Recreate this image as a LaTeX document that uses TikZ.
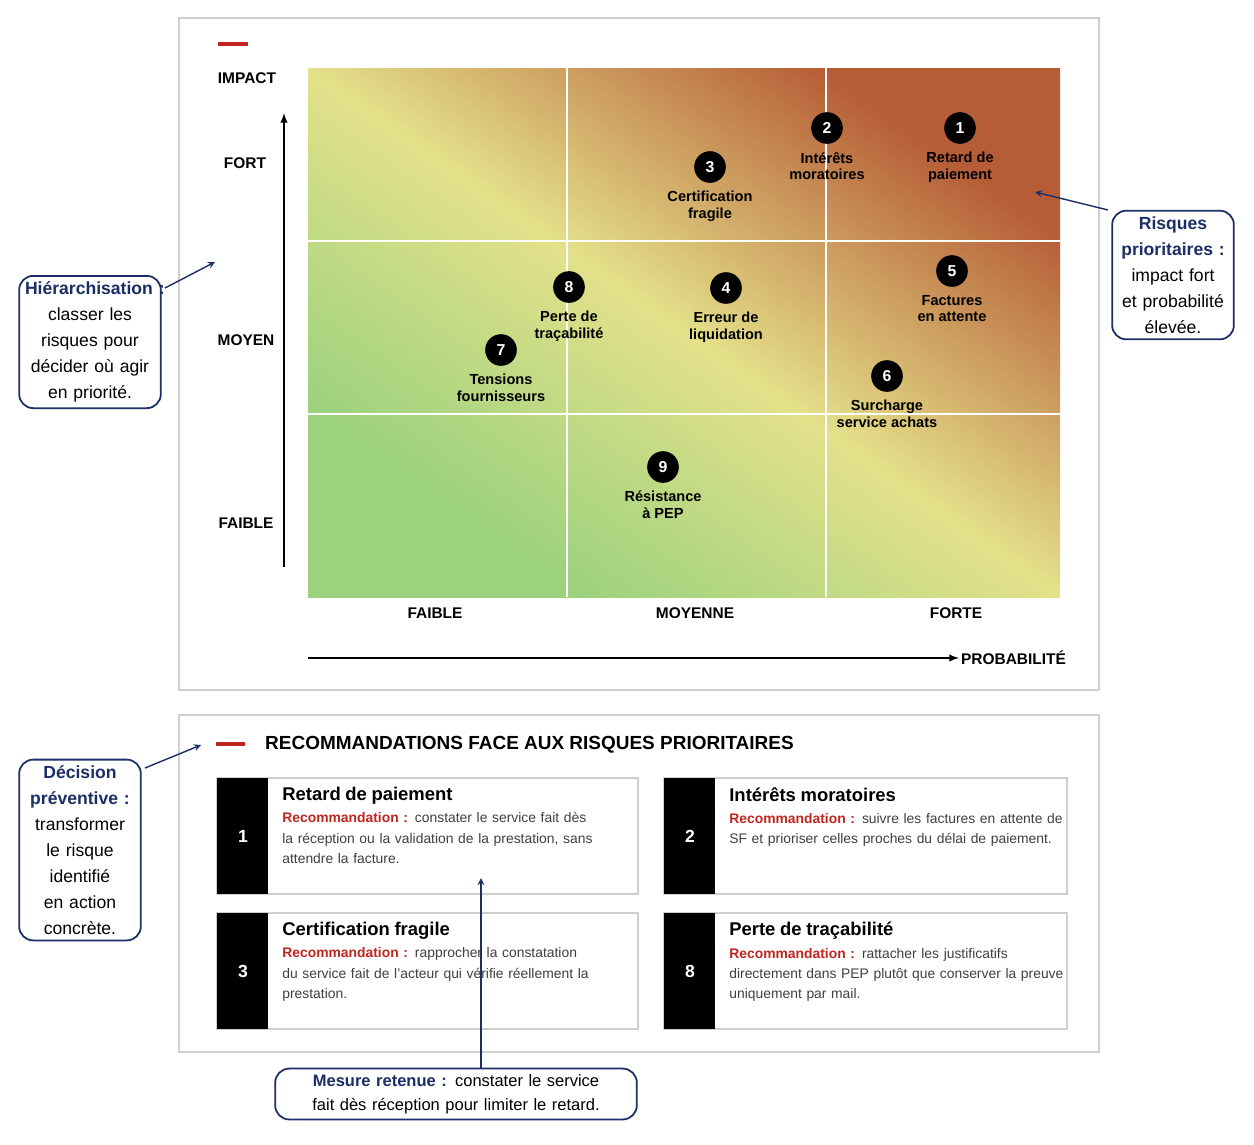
\documentclass[tikz,border=0pt]{standalone}
\usepackage{fontspec}
\setmainfont{Liberation Sans}
\usetikzlibrary{positioning}
\definecolor{navy}{HTML}{1B2F66}
\definecolor{recred}{HTML}{C0261F}
\definecolor{framegray}{HTML}{CFCFCF}
\definecolor{heatgreen}{HTML}{9CD27E}
\definecolor{heatyellow}{HTML}{E4E18A}
\definecolor{heatbrown}{HTML}{B65C36}
\pgfdeclarehorizontalshading{heatmap}{100bp}{color(0bp)=(heatgreen); color(28bp)=(heatgreen); color(50bp)=(heatyellow); color(74bp)=(heatbrown); color(100bp)=(heatbrown)}
\hyphenpenalty=10000
\exhyphenpenalty=10000

\begin{document}
\begin{tikzpicture}[x=0.02cm, y=-0.02cm,
	risk/.style={circle, fill=black, text=white, font=\fontsize{9}{9}\selectfont\bfseries, minimum size=18pt, inner sep=0pt},
	risklabel/.style={font=\fontsize{8.3}{9.3}\selectfont\bfseries, align=center},
	axislabel/.style={font=\fontsize{8.8}{9}\selectfont\bfseries},
	callout/.style={draw=navy, line width=1pt, rounded corners=8pt, fill=white, align=center, font=\fontsize{10}{14.8}\selectfont},
	card/.style={draw=framegray, line width=0.8pt, fill=white},
	cardtext/.style={anchor=north west, align=left, inner sep=0pt, font=\fontsize{7.9}{11.6}\selectfont},
	note/.style={->, >=stealth, navy, line width=0.8pt}]
	\useasboundingbox (0,0) rectangle (1254,1144);
	\fill[white] (0,0) rectangle (1254,1144);
	% matrix panel
	\draw[framegray, line width=0.8pt] (179,18) rectangle (1099,690);
	\draw[recred, line width=2pt] (218,44) -- (248,44);
	\shade[shading=heatmap, shading angle=55] (308,68) rectangle (1060,597);
	\foreach \x in {567,826} \draw[white, line width=0.8pt] (\x,68) -- (\x,597);
	\foreach \y in {241,414} \draw[white, line width=0.8pt] (308,\y) -- (1060,\y);
	\node[axislabel] (impact) at (247,78) {IMPACT};
	\node[axislabel] (ifort) at (245,163) {FORT};
	\node[axislabel] (imoyen) at (246,340) {MOYEN};
	\node[axislabel] (ifaible) at (246,523) {FAIBLE};
	\node[axislabel] (pfaible) at (435,613) {FAIBLE};
	\node[axislabel] (pmoyenne) at (695,613) {MOYENNE};
	\node[axislabel] (pforte) at (956,613) {FORTE};
	\node[axislabel, anchor=west, inner sep=1pt] (proba) at (959,658) {PROBABILITÉ};
	\coordinate (ybase) at (284,567);
	\coordinate (ytop) at (284,113);
	\coordinate (xbase) at (308,658);
	\draw[-latex, line width=0.9pt] (ybase) -- (ytop);
	\draw[-latex, line width=0.9pt] (xbase) -- (proba.west);
	% risks
	\foreach \n/\x/\y/\lab in {
		1/960/128/{Retard de\\paiement},
		2/827/128/{Intérêts\\moratoires},
		3/710/167/{Certification\\fragile},
		4/726/288/{Erreur de\\liquidation},
		5/952/271/{Factures\\en attente},
		6/887/376/{Surcharge\\service achats},
		7/501/350/{Tensions\\fournisseurs},
		8/569/287/{Perte de\\traçabilité},
		9/663/467/{Résistance\\à PEP}}{
		\node[risk] (r\n) at (\x,\y) {\n};
		\node[risklabel, below=1pt of r\n] (l\n) {\lab};
	}
	% recommendations panel
	\draw[framegray, line width=0.8pt] (179,715) rectangle (1099,1052);
	\draw[recred, line width=2pt] (216,744) -- (245,744);
	\node[anchor=west, font=\fontsize{10.8}{10.8}\selectfont\bfseries] (rtitle) at (259,745) {RECOMMANDATIONS FACE AUX RISQUES PRIORITAIRES};
	\foreach \n/\x/\y/\w/\tw/\title/\body in {
		1/217/778/421/6.95/{Retard de paiement}/{constater le service fait dès la réception ou la validation de la prestation, sans attendre la facture.},
		2/664/778/403/6.7/{Intérêts moratoires}/{suivre les factures en attente de SF et prioriser celles proches du délai de paiement.},
		3/217/913/421/6.95/{Certification fragile}/{rapprocher la constatation du service fait de l’acteur qui vérifie réellement la prestation.},
		8/664/913/403/6.7/{Perte de traçabilité}/{rattacher les justificatifs directement dans PEP plutôt que conserver la preuve uniquement par mail.}}{
		\draw[card] (\x,\y) rectangle ++(\w,116);
		\fill[black] (\x,\y) rectangle ++(51,116);
		\node[text=white, font=\fontsize{10}{10}\selectfont\bfseries] (cn\n) at ([shift={(26,58)}]\x,\y) {\n};
		\node[cardtext, text width=\tw cm] (ct\n) at ([shift={(65,9)}]\x,\y)
		{{\fontsize{10.5}{14}\selectfont\bfseries \title}\\[1pt]
		{\color{recred}\bfseries Recommandation~:} {\color{black!75}\body}};
	}
	% callouts
	\node[callout, text width=2.6cm] (hier) at (90,342)
	{{\color{navy}\bfseries Hiérarchisation~:} classer les risques pour décider où agir en priorité.};
	\node[callout, text width=2.2cm] (prio) at (1173,275)
	{{\color{navy}\bfseries Risques prioritaires~:} impact fort et probabilité élevée.};
	\node[callout, text width=2.2cm] (decis) at (80,850)
	{{\color{navy}\bfseries Décision préventive~:} transformer le risque identifié en action concrète.};
	\node[callout, text width=7cm, font=\fontsize{9.4}{13.5}\selectfont] (mesure) at (456,1094)
	{{\color{navy}\bfseries Mesure retenue~:} constater le service fait dès réception pour limiter le retard.};
	\coordinate (hierstart) at (165,288);
	\coordinate (hierend) at (215,262);
	\coordinate (priostart) at (1108,210);
	\coordinate (prioend) at (1035,192);
	\coordinate (decisstart) at (145,768);
	\coordinate (decisend) at (201,745);
	\coordinate (mesureend) at (481,878);
	\draw[note] (hierstart) -- (hierend);
	\draw[note] (priostart) -- (prioend);
	\draw[note] (decisstart) -- (decisend);
	\draw[note] (mesure.north -| mesureend) -- (mesureend);
\end{tikzpicture}
\end{document}
